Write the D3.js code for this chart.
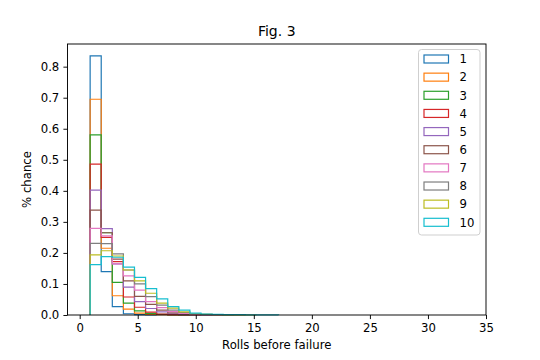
<!DOCTYPE html>
<html>
<head>
<meta charset="utf-8">
<script src="https://cdn.jsdelivr.net/npm/d3@7"></script>
<style>
  html, body { margin: 0; padding: 0; background: #fff; }
  svg { display: block; font-family: "DejaVu Sans", sans-serif; }
</style>
</head>
<body>
<svg id="chart" width="540" height="360"></svg>
<script>
// ---- data ----
const title = "Fig. 3";
const xLabel = "Rolls before failure";
const yLabel = "% chance";
const seriesNames = ["1", "2", "3", "4", "5", "6", "7", "8", "9", "10"];
const binStart = 0.9;
const binWidth = 0.955;
const s1  = [0.835, 0.140, 0.027, 0.004, 0.001, 0];
const s2  = [0.695, 0.215, 0.062, 0.019, 0.006, 0.002, 0.001, 0];
const s3  = [0.580, 0.265, 0.105, 0.038, 0.013, 0.005, 0.002, 0.001, 0];
const s4  = [0.486, 0.250, 0.172, 0.058, 0.025, 0.009, 0.003, 0.001, 0, 0];
const s5  = [0.402, 0.278, 0.165, 0.090, 0.043, 0.021, 0.010, 0.004, 0.002, 0.001, 0];
const s6  = [0.338, 0.265, 0.180, 0.110, 0.060, 0.034, 0.016, 0.007, 0.003, 0.001, 0, 0];
const s7  = [0.279, 0.255, 0.165, 0.126, 0.080, 0.043, 0.024, 0.011, 0.005, 0.002, 0.001, 0, 0];
const s8  = [0.231, 0.230, 0.197, 0.145, 0.100, 0.059, 0.032, 0.016, 0.008, 0.004, 0.002, 0.001, 0, 0];
const s9  = [0.194, 0.207, 0.190, 0.145, 0.110, 0.070, 0.038, 0.022, 0.010, 0.004, 0.002, 0.001, 0.0005, 0, 0];
const s10 = [0.162, 0.188, 0.186, 0.154, 0.121, 0.085, 0.052, 0.027, 0.016, 0.006, 0.003, 0.002, 0.001, 0.001, 0.0005, 0.0005, 0.0003];
const seriesValues = [s1, s2, s3, s4, s5, s6, s7, s8, s9, s10];
const xTicks = [0, 5, 10, 15, 20, 25, 30, 35];
const yTicks = [0, 0.1, 0.2, 0.3, 0.4, 0.5, 0.6, 0.7, 0.8];
const colors = ["#1f77b4", "#ff7f0e", "#2ca02c", "#d62728", "#9467bd",
                "#8c564b", "#e377c2", "#7f7f7f", "#bcbd22", "#17becf"];

// ---- layout ----
const svg = d3.select("#chart");
const L = 67.5, R = 486, T = 44, B = 315;
const x = d3.scaleLinear().domain([-1.05, 35]).range([L, R]);
const y = d3.scaleLinear().domain([0, 0.873]).range([B, T]);
const fs = 11.7;

// histograms (step)
const line = d3.line();
seriesValues.forEach((vals, i) => {
  const pts = [];
  const e0 = binStart;
  pts.push([x(e0), y(0)]);
  vals.forEach((v, k) => {
    const a = binStart + k * binWidth, b = binStart + (k + 1) * binWidth;
    pts.push([x(a), y(v)]);
    pts.push([x(b), y(v)]);
  });
  pts.push([x(binStart + vals.length * binWidth), y(0)]);
  svg.append("path")
    .attr("d", line(pts))
    .attr("fill", "none")
    .attr("stroke", colors[i])
    .attr("stroke-width", 1.2)
    .attr("stroke-linejoin", "miter");
});

// axes
const xAxis = d3.axisBottom(x).tickValues(xTicks).tickSize(4.1).tickPadding(4.1).tickFormat(d3.format("d"));
const yAxis = d3.axisLeft(y).tickValues(yTicks).tickSize(4.1).tickPadding(4.1).tickFormat(d3.format(".1f"));
const gx = svg.append("g").attr("transform", `translate(0,${B})`).call(xAxis);
const gy = svg.append("g").attr("transform", `translate(${L},0)`).call(yAxis);
[gx, gy].forEach(g => {
  g.select(".domain").remove();
  g.selectAll(".tick line").attr("stroke", "#000").attr("stroke-width", 0.94);
  g.selectAll(".tick text").attr("fill", "#000").style("font-size", fs + "px").style("font-family", "DejaVu Sans");
});

// spines
svg.append("rect")
  .attr("x", L).attr("y", T).attr("width", R - L).attr("height", B - T)
  .attr("fill", "none").attr("stroke", "#000").attr("stroke-width", 0.94);

// title & labels
svg.append("text").attr("x", (L + R) / 2).attr("y", 36)
  .attr("text-anchor", "middle").style("font-size", "14px").text(title);
svg.append("text").attr("x", (L + R) / 2).attr("y", 349)
  .attr("text-anchor", "middle").style("font-size", fs + "px").text(xLabel);
svg.append("text")
  .attr("transform", `translate(31,${(T + B) / 2}) rotate(-90)`)
  .attr("text-anchor", "middle").style("font-size", fs + "px").text(yLabel);

// legend
const lg = svg.append("g");
lg.append("rect")
  .attr("x", 418.5).attr("y", 49.5).attr("width", 61.5).attr("height", 185.5)
  .attr("rx", 3).attr("ry", 3)
  .attr("fill", "#fff").attr("fill-opacity", 0.8)
  .attr("stroke", "#cccccc").attr("stroke-width", 0.94);
const rowY = d3.scaleLinear().domain([0, 9]).range([59, 222.3]);
seriesNames.forEach((name, i) => {
  const cy = rowY(i);
  lg.append("rect")
    .attr("x", 424).attr("y", cy - 4).attr("width", 24.5).attr("height", 8)
    .attr("fill", "none").attr("stroke", colors[i]).attr("stroke-width", 1.2);
  lg.append("text")
    .attr("x", 459.5).attr("y", cy).attr("dy", "0.36em")
    .style("font-size", fs + "px").text(name);
});
</script>
</body>
</html>
